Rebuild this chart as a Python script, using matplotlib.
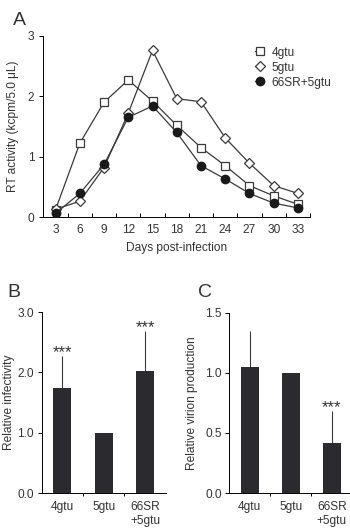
import matplotlib
matplotlib.use("Agg")
import matplotlib.pyplot as plt
import numpy as np

plt.rcParams['font.family'] = ['Liberation Sans', 'DejaVu Sans']

days = [3, 6, 9, 12, 15, 18, 21, 24, 27, 30, 33]
rt_4gtu = [0.12, 1.22, 1.90, 2.27, 1.92, 1.52, 1.15, 0.85, 0.52, 0.35, 0.21]
rt_5gtu = [0.13, 0.26, 0.82, 1.72, 2.76, 1.96, 1.91, 1.31, 0.89, 0.52, 0.39]
rt_66sr = [0.06, 0.39, 0.87, 1.65, 1.84, 1.40, 0.85, 0.63, 0.39, 0.23, 0.15]

groups = ['4gtu', '5gtu', '66SR\n+5gtu']
infectivity = [1.75, 1.0, 2.02]
infectivity_err = [0.53, 0.0, 0.67]
infectivity_sig = ['***', '', '***']
virion = [1.05, 1.0, 0.415]
virion_err = [0.30, 0.0, 0.27]
virion_sig = ['', '', '***']

fig = plt.figure(figsize=(3.5, 5.28), dpi=100)
line_col = '#3a3a3a'
bar_col = '#2b2b2f'
txt_col = '#333333'
fs = 8.6

# Panel A
axA = fig.add_axes([0.124, 0.589, 0.762, 0.343])
x = np.arange(len(days))
axA.plot(x, rt_4gtu, '-', color=line_col, lw=0.9, marker='s', ms=6,
         mfc='white', mec=line_col, mew=0.9, label='4gtu', zorder=3)
axA.plot(x, rt_5gtu, '-', color=line_col, lw=0.9, marker='D', ms=5,
         mfc='white', mec=line_col, mew=0.9, label='5gtu', zorder=3)
axA.plot(x, rt_66sr, '-', color=line_col, lw=0.9, marker='o', ms=6,
         mfc='#1a1a1a', mec='#1a1a1a', label='66SR+5gtu', zorder=4)
axA.set_xlim(-0.5, len(days) - 0.5)
axA.set_ylim(0, 3)
axA.set_yticks([0, 1, 2, 3])
axA.set_xticks(x)
axA.set_xticklabels([str(d) for d in days])
axA.set_xticks(np.arange(-0.5, len(days), 1.0), minor=True)
axA.tick_params(axis='x', which='major', length=0, labelsize=fs, pad=5, labelcolor=txt_col)
axA.tick_params(axis='x', which='minor', direction='in', length=3, width=0.7)
axA.tick_params(axis='y', labelsize=fs, length=3, width=0.7, labelcolor=txt_col)
for s in ['top', 'right']:
    axA.spines[s].set_visible(False)
for s in ['left', 'bottom']:
    axA.spines[s].set_linewidth(0.7)
axA.set_xlabel('Days post-infection', fontsize=fs, labelpad=4, color=txt_col)
axA.set_ylabel('RT activity (kcpm/5.0 μL)', fontsize=fs, labelpad=6, color=txt_col)
axA.legend(loc='upper right', frameon=False, fontsize=fs, handlelength=0.8,
           handletextpad=0.6, labelspacing=0.25, bbox_to_anchor=(1.12, 1.0),
           labelcolor=txt_col)
fig.text(0.037, 0.962, 'A', fontsize=14, va='center', ha='left', color=txt_col)


def bar_panel(rect, vals, errs, sigs, ylim, yticks, ylabel, letter, lpos, lpad):
    ax = fig.add_axes(rect)
    xb = np.arange(len(groups))
    ax.bar(xb, vals, width=0.44, color=bar_col, zorder=2)
    for xi, v, e, sg in zip(xb, vals, errs, sigs):
        if e > 0:
            ax.errorbar(xi, v, yerr=[[0], [e]], color=line_col, lw=0.8,
                        capsize=0, zorder=1)
        if sg:
            ax.text(xi, v + e - ylim * 0.025, sg, ha='center', va='bottom',
                    fontsize=12, color=txt_col)
    ax.set_xlim(-0.5, len(groups) - 0.5)
    ax.set_ylim(0, ylim)
    ax.set_yticks(yticks)
    ax.set_yticklabels(['%.1f' % t for t in yticks])
    ax.set_xticks(xb)
    ax.set_xticklabels(groups, fontsize=fs, va='top', color=txt_col)
    ax.set_xticks([0.5, 1.5], minor=True)
    ax.tick_params(axis='x', which='major', length=0, pad=6)
    ax.tick_params(axis='x', which='minor', direction='out', length=2.5, width=0.7)
    ax.tick_params(axis='y', labelsize=fs, length=3, width=0.7, pad=2.5,
                   labelcolor=txt_col)
    for s in ['top', 'right']:
        ax.spines[s].set_visible(False)
    for s in ['left', 'bottom']:
        ax.spines[s].set_linewidth(0.7)
    ax.set_ylabel(ylabel, fontsize=fs, labelpad=lpad, color=txt_col)
    fig.text(lpos[0], lpos[1], letter, fontsize=14, va='center', ha='left', color=txt_col)
    return ax


bar_panel([0.119, 0.066, 0.355, 0.343], infectivity, infectivity_err,
          infectivity_sig, 3.0, [0.0, 1.0, 2.0, 3.0], 'Relative infectivity',
          'B', (0.02, 0.446), 2)
bar_panel([0.655, 0.066, 0.352, 0.342], virion, virion_err, virion_sig,
          1.5, [0.0, 0.5, 1.0, 1.5], 'Relative virion production',
          'C', (0.566, 0.446), 5)

fig.savefig('out.png', dpi=100)
